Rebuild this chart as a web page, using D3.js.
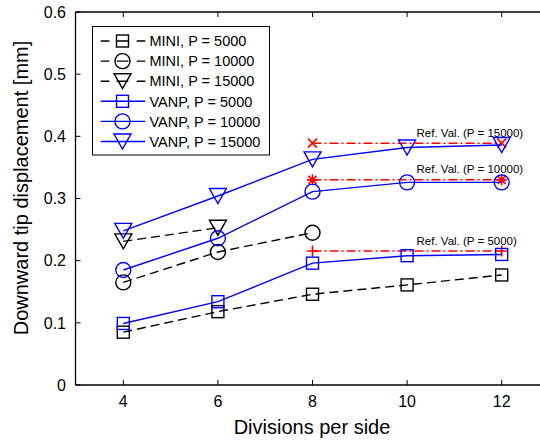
<!DOCTYPE html>
<html><head><meta charset="utf-8">
<script src="https://cdn.jsdelivr.net/npm/d3@7"></script>
<style>body{margin:0;background:#fff}svg{display:block;font-family:"Liberation Sans",Arial,sans-serif}</style>
</head><body><svg id="c" width="540" height="440"></svg>
<script>
const divisions = [4, 6, 8, 10, 12];
const miniP5000  = [0.085, 0.118, 0.146, 0.161, 0.177];
const miniP10000 = [0.165, 0.214, 0.245];
const miniP15000 = [0.231, 0.253];
const vanpP5000  = [0.099, 0.134, 0.196, 0.208, 0.210];
const vanpP10000 = [0.185, 0.236, 0.311, 0.326, 0.326];
const vanpP15000 = [0.248, 0.304, 0.363, 0.382, 0.386];
const refX = [8, 12];
const refValues = [0.2155, 0.330, 0.389];
const refLabels = ["Ref. Val. (P = 5000)", "Ref. Val. (P = 10000)", "Ref. Val. (P = 15000)"];
const refMarkers = ["plus", "star", "cross"];
const xTicks = [4, 6, 8, 10, 12];
const yTicks = [0, 0.1, 0.2, 0.3, 0.4, 0.5, 0.6];
const xTitle = "Divisions per side";
const yTitle = "Downward tip displacement [mm]";
const series = [
  {name: "MINI, P = 5000",  vals: miniP5000,  marker: "square",   color: "#000", dash: true},
  {name: "MINI, P = 10000", vals: miniP10000, marker: "circle",   color: "#000", dash: true},
  {name: "MINI, P = 15000", vals: miniP15000, marker: "triangle", color: "#000", dash: true},
  {name: "VANP, P = 5000",  vals: vanpP5000,  marker: "square",   color: "#0000ff", dash: false},
  {name: "VANP, P = 10000", vals: vanpP10000, marker: "circle",   color: "#0000ff", dash: false},
  {name: "VANP, P = 15000", vals: vanpP15000, marker: "triangle", color: "#0000ff", dash: false}
];

const svg = d3.select("#c");
const L = 75.5, T = 12, B = 385;
const x = d3.scaleLinear().domain([3, 13]).range([76, 549]);
const y = d3.scaleLinear().domain([0, 0.6]).range([B, T]);

function drawMarker(g, type, cx, cy, color) {
  const s = g.append("g").attr("transform", `translate(${cx},${cy})`)
    .attr("fill", "none").attr("stroke", color).attr("stroke-width", 1.4);
  if (type === "square") s.append("rect").attr("x", -6).attr("y", -6).attr("width", 12).attr("height", 12);
  else if (type === "circle") s.append("circle").attr("r", 7.5);
  else if (type === "triangle") s.append("path").attr("d", "M-8.5,-7.5L8.5,-7.5L0,7.5Z");
  else if (type === "plus") s.append("path").attr("d", "M-5.5,0H5.5M0,-5.5V5.5").attr("stroke-width", 1.6);
  else if (type === "cross") s.append("path").attr("d", "M-4.5,-4.5L4.5,4.5M-4.5,4.5L4.5,-4.5").attr("stroke-width", 1.6);
  else if (type === "star") s.append("path").attr("d", "M-5.5,0H5.5M0,-5.5V5.5M-4,-4L4,4M-4,4L4,-4").attr("stroke-width", 1.6);
}

// axes frame
const ax = svg.append("g").attr("stroke", "#000").attr("stroke-width", 1.3);
ax.append("line").attr("x1", L).attr("x2", 540).attr("y1", B).attr("y2", B);
ax.append("line").attr("x1", L).attr("x2", 540).attr("y1", T).attr("y2", T);
ax.append("line").attr("x1", L).attr("x2", L).attr("y1", T).attr("y2", B);

// ticks
xTicks.forEach(t => {
  ax.append("line").attr("x1", x(t)).attr("x2", x(t)).attr("y1", B).attr("y2", B - 5).attr("stroke-width", 1);
  ax.append("line").attr("x1", x(t)).attr("x2", x(t)).attr("y1", T).attr("y2", T + 5).attr("stroke-width", 1);
  svg.append("text").attr("x", x(t)).attr("y", 407).attr("text-anchor", "middle")
    .attr("font-size", 16).text(t);
});
yTicks.forEach(t => {
  ax.append("line").attr("x1", L).attr("x2", L + 5).attr("y1", y(t)).attr("y2", y(t)).attr("stroke-width", 1);
  svg.append("text").attr("x", 66).attr("y", y(t)).attr("dy", "0.36em").attr("text-anchor", "end")
    .attr("font-size", 16).text(t === 0 ? "0" : d3.format(".1f")(t));
});
svg.append("text").attr("x", 312).attr("y", 433.5).attr("text-anchor", "middle").attr("font-size", 20).text(xTitle);
svg.append("text").attr("transform", "translate(27.5,188) rotate(-90)").attr("text-anchor", "middle")
  .attr("font-size", 20).text(yTitle);

// reference lines
refValues.forEach((v, i) => {
  svg.append("line").attr("x1", x(refX[0])).attr("x2", x(refX[1])).attr("y1", y(v)).attr("y2", y(v))
    .attr("stroke", "#ff0000").attr("stroke-width", 1.5).attr("stroke-dasharray", "9,3,2,3");
  refX.forEach(rx => drawMarker(svg, refMarkers[i], x(rx), y(v), "#ff0000"));
  svg.append("text").attr("x", x(10.2)).attr("y", y(v) - 6.5).attr("font-size", 11.5).attr("fill", "#000")
    .text(refLabels[i]);
});

// series
const line = d3.line().x(d => x(d[0])).y(d => y(d[1]));
series.forEach(s => {
  const pts = s.vals.map((v, i) => [divisions[i], v]);
  svg.append("path").attr("d", line(pts)).attr("fill", "none").attr("stroke", s.color)
    .attr("stroke-width", 1.4).attr("stroke-dasharray", s.dash ? "9,5" : null);
  pts.forEach(p => drawMarker(svg, s.marker, x(p[0]), y(p[1]), s.color));
});

// legend
const lg = svg.append("g");
lg.append("rect").attr("x", 92.5).attr("y", 26.5).attr("width", 177).attr("height", 128.5)
  .attr("fill", "#fff").attr("stroke", "#000").attr("stroke-width", 1);
series.forEach((s, i) => {
  const ly = 41 + i * 20.1;
  lg.append("line").attr("x1", 100.7).attr("x2", 145.3).attr("y1", ly).attr("y2", ly)
    .attr("stroke", s.color).attr("stroke-width", 1.4)
    .attr("stroke-dasharray", s.dash ? "8.6,7.4,11.6,8.4,8.6" : null);
  drawMarker(lg, s.marker, 122.5, ly, s.color);
  lg.append("text").attr("x", 149.5).attr("y", ly).attr("dy", "0.36em").attr("font-size", 14.5).text(s.name);
});
</script></body></html>
